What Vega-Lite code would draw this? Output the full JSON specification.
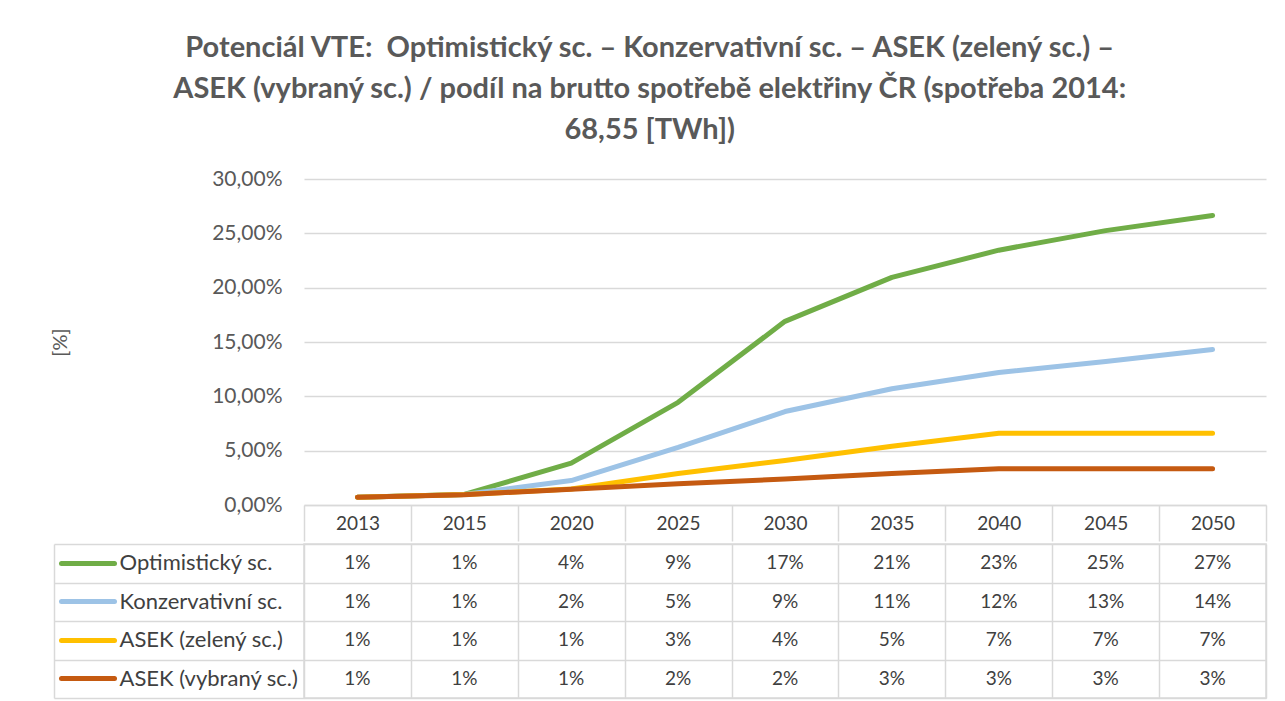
{
  "$schema": "https://vega.github.io/schema/vega-lite/v6.json",
  "background": "white",
  "padding": {"left": 50, "top": 34, "right": 10, "bottom": 2},
  "title": {
    "text": ["Potenciál VTE:\u00a0 Optimistický sc. – Konzervativní sc. – ASEK (zelený sc.) –", "ASEK (vybraný sc.) / podíl na brutto spotřebě elektřiny ČR (spotřeba 2014:", "68,55 [TWh])"],
    "font": "Lato", "fontSize": 29, "fontWeight": "bold", "color": "#595959",
    "lineHeight": 41, "anchor": "middle", "offset": 23, "dx": -9
  },
  "config": {
    "font": "Lato",
    "view": {"stroke": null}
  },
  "datasets": {
    "vte": [
      {"year": "2013", "series": "Optimistický sc.", "value": 0.0072},
      {"year": "2015", "series": "Optimistický sc.", "value": 0.0097},
      {"year": "2020", "series": "Optimistický sc.", "value": 0.0385},
      {"year": "2025", "series": "Optimistický sc.", "value": 0.0945},
      {"year": "2030", "series": "Optimistický sc.", "value": 0.169},
      {"year": "2035", "series": "Optimistický sc.", "value": 0.2095},
      {"year": "2040", "series": "Optimistický sc.", "value": 0.2345},
      {"year": "2045", "series": "Optimistický sc.", "value": 0.2525},
      {"year": "2050", "series": "Optimistický sc.", "value": 0.2665},
      {"year": "2013", "series": "Konzervativní sc.", "value": 0.0072},
      {"year": "2015", "series": "Konzervativní sc.", "value": 0.0097},
      {"year": "2020", "series": "Konzervativní sc.", "value": 0.0225},
      {"year": "2025", "series": "Konzervativní sc.", "value": 0.053},
      {"year": "2030", "series": "Konzervativní sc.", "value": 0.086},
      {"year": "2035", "series": "Konzervativní sc.", "value": 0.107},
      {"year": "2040", "series": "Konzervativní sc.", "value": 0.122},
      {"year": "2045", "series": "Konzervativní sc.", "value": 0.132},
      {"year": "2050", "series": "Konzervativní sc.", "value": 0.143},
      {"year": "2013", "series": "ASEK (zelený sc.)", "value": 0.0072},
      {"year": "2015", "series": "ASEK (zelený sc.)", "value": 0.0097},
      {"year": "2020", "series": "ASEK (zelený sc.)", "value": 0.0147},
      {"year": "2025", "series": "ASEK (zelený sc.)", "value": 0.029},
      {"year": "2030", "series": "ASEK (zelený sc.)", "value": 0.041},
      {"year": "2035", "series": "ASEK (zelený sc.)", "value": 0.054},
      {"year": "2040", "series": "ASEK (zelený sc.)", "value": 0.066},
      {"year": "2045", "series": "ASEK (zelený sc.)", "value": 0.066},
      {"year": "2050", "series": "ASEK (zelený sc.)", "value": 0.066},
      {"year": "2013", "series": "ASEK (vybraný sc.)", "value": 0.0072},
      {"year": "2015", "series": "ASEK (vybraný sc.)", "value": 0.0095},
      {"year": "2020", "series": "ASEK (vybraný sc.)", "value": 0.0145},
      {"year": "2025", "series": "ASEK (vybraný sc.)", "value": 0.0195},
      {"year": "2030", "series": "ASEK (vybraný sc.)", "value": 0.024},
      {"year": "2035", "series": "ASEK (vybraný sc.)", "value": 0.029},
      {"year": "2040", "series": "ASEK (vybraný sc.)", "value": 0.0333},
      {"year": "2045", "series": "ASEK (vybraný sc.)", "value": 0.0333},
      {"year": "2050", "series": "ASEK (vybraný sc.)", "value": 0.0333}
    ]
  },
  "spacing": 0,
  "resolve": {"scale": {"x": "independent", "y": "independent", "color": "shared"}},
  "vconcat": [
    {
      "width": 962,
      "height": 326,
      "view": {"stroke": null},
      "data": {"name": "vte"},
      "mark": {"type": "line", "strokeWidth": 5, "strokeCap": "round", "strokeJoin": "round"},
      "encoding": {
        "x": {
          "field": "year", "type": "ordinal",
          "scale": {"type": "band", "paddingInner": 0, "paddingOuter": 0},
          "axis": {
            "title": null, "labelAngle": 0, "tickBand": "extent", "tickSize": 36,
            "tickColor": "#d9d9d9", "tickWidth": 1.5, "domainColor": "#d9d9d9", "domainWidth": 1.5,
            "labelPadding": -18, "labelBaseline": "middle", "labelFontSize": 19,
            "labelColor": "#404040", "grid": false
          }
        },
        "y": {
          "field": "value", "type": "quantitative",
          "scale": {"domain": [0, 0.3], "nice": false},
          "axis": {
            "title": "[%]", "values": [0, 0.05, 0.1, 0.15, 0.2, 0.25, 0.3],
            "labelExpr": "replace(format(datum.value, '.2%'), '.', ',')",
            "grid": true, "gridColor": "#d9d9d9", "gridWidth": 1.5, "domain": false, "ticks": false,
            "labelPadding": 22, "labelFontSize": 21, "labelColor": "#595959",
            "titleFontSize": 20, "titleFontWeight": "normal", "titleColor": "#595959",
            "titlePadding": 141
          }
        },
        "color": {
          "field": "series", "type": "nominal",
          "scale": {
            "domain": ["Optimistický sc.", "Konzervativní sc.", "ASEK (zelený sc.)", "ASEK (vybraný sc.)"],
            "range": ["#70AD47", "#9DC3E6", "#FFC000", "#C55A11"]
          },
          "legend": null
        }
      }
    },
    {
      "width": 962,
      "height": 154,
      "view": {"stroke": "#d9d9d9", "strokeWidth": 1.5},
      "data": {"name": "vte"},
      "resolve": {"axis": {"y": "independent"}},
      "layer": [
        {
          "mark": {"type": "text", "fontSize": 19, "color": "#404040", "baseline": "middle", "align": "center"},
          "encoding": {
            "x": {
              "field": "year", "type": "ordinal",
              "scale": {"type": "band", "paddingInner": 0, "paddingOuter": 0},
              "axis": {"title": null, "labels": false, "ticks": false, "domain": false, "grid": true, "tickBand": "extent", "gridColor": "#d9d9d9", "gridWidth": 1.5}
            },
            "y": {
              "field": "series", "type": "nominal",
              "scale": {"domain": ["Optimistický sc.", "Konzervativní sc.", "ASEK (zelený sc.)", "ASEK (vybraný sc.)"]},
              "axis": {"orient": "left", "title": null, "labels": false, "ticks": true, "tickSize": 250, "tickColor": "#d9d9d9", "tickWidth": 1.5, "domain": false, "grid": true, "tickBand": "extent", "gridColor": "#d9d9d9", "gridWidth": 1.5}
            },
            "text": {"field": "value", "type": "quantitative", "format": ".0%"}
          }
        },
        {
          "mark": {"type": "text", "opacity": 0},
          "encoding": {
            "y": {
              "field": "series", "type": "nominal",
              "axis": {"orient": "left", "offset": 250, "title": null, "labels": false, "ticks": false, "grid": false, "domain": true, "domainColor": "#d9d9d9", "domainWidth": 1.5}
            },
            "text": {"value": ""}
          }
        },
        {
          "mark": {"type": "text", "opacity": 0},
          "encoding": {
            "y": {
              "field": "series", "type": "nominal",
              "axis": {
                "orient": "right", "offset": -1205, "title": null, "domain": false, "grid": false,
                "tickSize": 53, "tickWidth": 5, "tickCap": "round",
                "tickColor": {"condition": [
                  {"test": "datum.value === 'Optimistický sc.'", "value": "#70AD47"},
                  {"test": "datum.value === 'Konzervativní sc.'", "value": "#9DC3E6"},
                  {"test": "datum.value === 'ASEK (zelený sc.)'", "value": "#FFC000"}
                ], "value": "#C55A11"},
                "labelPadding": 5, "labelFontSize": 22, "labelColor": "#404040", "labelAlign": "left", "labelLimit": 300
              }
            },
            "text": {"value": ""}
          }
        }
      ]
    }
  ]
}
